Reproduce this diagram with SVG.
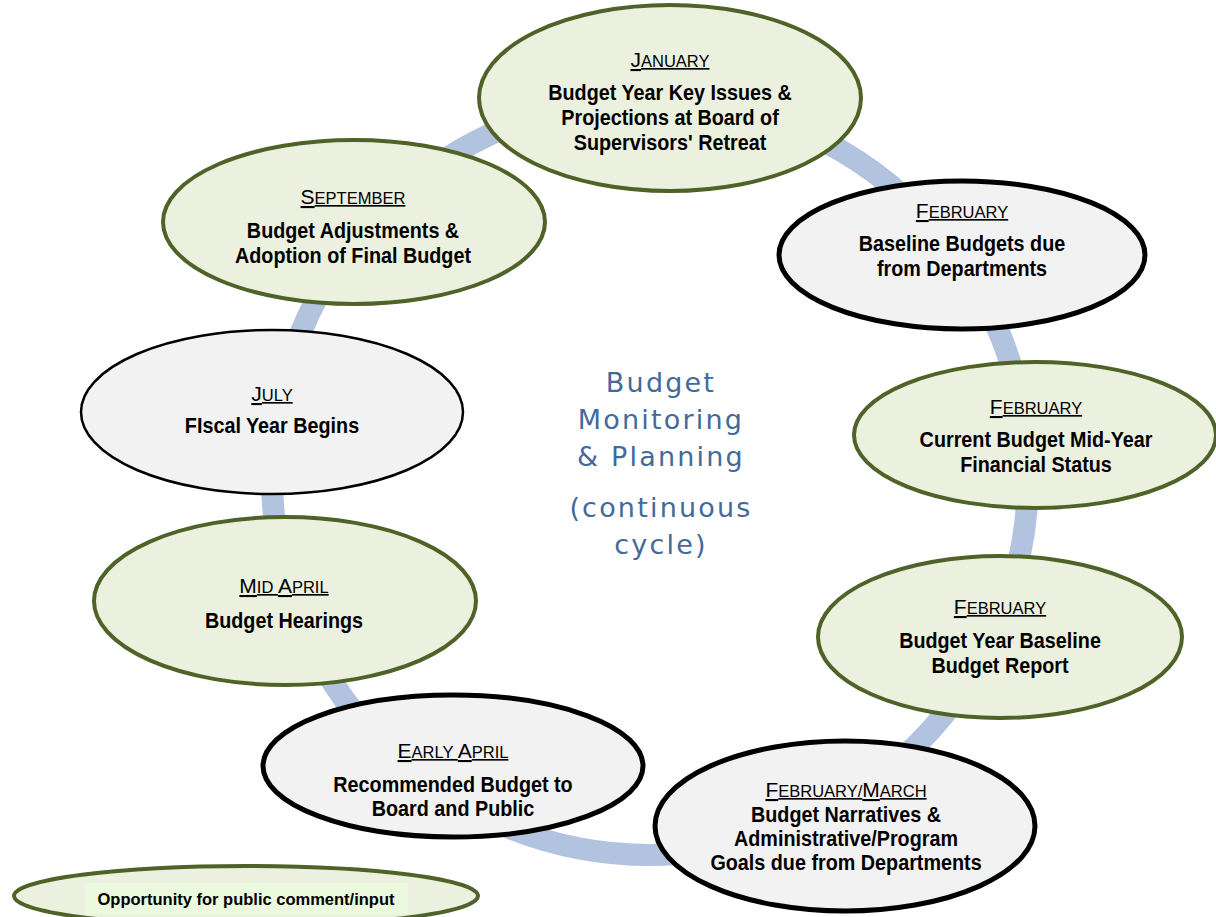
<svg xmlns="http://www.w3.org/2000/svg" width="1216" height="917" viewBox="0 0 1216 917">
<style>
.green{fill:#ebf1de;stroke:#4f6228;stroke-width:4}
.gray{fill:#f2f2f2;stroke:#000;stroke-width:5}
.grayThin{fill:#f2f2f2;stroke:#000;stroke-width:2.5}
text{font-family:"Liberation Sans Narrow","Arial Narrow","Liberation Sans",sans-serif;text-anchor:middle;fill:#000}
.m{font-size:16.5px;text-decoration:underline}
.mc{font-size:21px}
.b{font-size:21.5px;font-weight:bold}
.ctr{font-family:"DejaVu Sans",sans-serif;font-size:27px;fill:#44699b;letter-spacing:2.2px}
.leg{font-family:"Liberation Sans",sans-serif;font-size:16.5px;font-weight:bold}
</style>
<rect width="1216" height="917" fill="#fff"/>
<g id="connectors">
<circle cx="650" cy="477" r="378" fill="none" stroke="#b2c3df" stroke-width="22"/>
</g>
<g id="center">
<text class="ctr" x="661" y="392">Budget</text>
<text class="ctr" x="661" y="429">Monitoring</text>
<text class="ctr" x="661" y="466">&amp; Planning</text>
<text class="ctr" x="661" y="517">(continuous</text>
<text class="ctr" x="661" y="554">cycle)</text>
</g>
<g id="january">
<ellipse class="green" cx="670" cy="98" rx="191" ry="93"/>
<text class="m" x="670" y="67"><tspan class="mc">J</tspan>ANUARY</text>
<g transform="translate(670,0) scale(0.92,1)">
<text class="b" x="0" y="100">Budget Year Key Issues &amp;</text>
<text class="b" x="0" y="125">Projections at Board of</text>
<text class="b" x="0" y="150">Supervisors' Retreat</text>
</g>
</g>
<g id="feb1">
<ellipse class="gray" cx="962" cy="255" rx="183" ry="74"/>
<text class="m" x="962" y="218"><tspan class="mc">F</tspan>EBRUARY</text>
<g transform="translate(962,0) scale(0.92,1)">
<text class="b" x="0" y="251">Baseline Budgets due</text>
<text class="b" x="0" y="276">from Departments</text>
</g>
</g>
<g id="feb2">
<ellipse class="green" cx="1035" cy="435" rx="181" ry="73"/>
<text class="m" x="1036" y="414"><tspan class="mc">F</tspan>EBRUARY</text>
<g transform="translate(1036,0) scale(0.92,1)">
<text class="b" x="0" y="447">Current Budget Mid-Year</text>
<text class="b" x="0" y="472">Financial Status</text>
</g>
</g>
<g id="feb3">
<ellipse class="green" cx="1000" cy="637" rx="182" ry="81"/>
<text class="m" x="1000" y="614"><tspan class="mc">F</tspan>EBRUARY</text>
<g transform="translate(1000,0) scale(0.92,1)">
<text class="b" x="0" y="648">Budget Year Baseline</text>
<text class="b" x="0" y="673">Budget Report</text>
</g>
</g>
<g id="febmar">
<ellipse class="gray" cx="845" cy="826" rx="190" ry="85"/>
<text class="m" x="846" y="797"><tspan class="mc">F</tspan>EBRUARY/<tspan class="mc">M</tspan>ARCH</text>
<g transform="translate(846,0) scale(0.92,1)">
<text class="b" x="0" y="822">Budget Narratives &amp;</text>
<text class="b" x="0" y="846">Administrative/Program</text>
<text class="b" x="0" y="870">Goals due from Departments</text>
</g>
</g>
<g id="earlyapril">
<ellipse class="gray" cx="453" cy="766" rx="190" ry="71"/>
<text class="m" x="453" y="758"><tspan class="mc">E</tspan>ARLY <tspan class="mc">A</tspan>PRIL</text>
<g transform="translate(453,0) scale(0.92,1)">
<text class="b" x="0" y="792">Recommended Budget to</text>
<text class="b" x="0" y="816">Board and Public</text>
</g>
</g>
<g id="midapril">
<ellipse class="green" cx="285" cy="601" rx="191" ry="84"/>
<text class="m" x="284" y="593"><tspan class="mc">M</tspan>ID <tspan class="mc">A</tspan>PRIL</text>
<g transform="translate(284,0) scale(0.92,1)">
<text class="b" x="0" y="628">Budget Hearings</text>
</g>
</g>
<g id="july">
<ellipse class="grayThin" cx="272" cy="412" rx="191" ry="82"/>
<text class="m" x="272" y="401"><tspan class="mc">J</tspan>ULY</text>
<g transform="translate(272,0) scale(0.92,1)">
<text class="b" x="0" y="433">FIscal Year Begins</text>
</g>
</g>
<g id="september">
<ellipse class="green" cx="354" cy="222" rx="191" ry="82"/>
<text class="m" x="353" y="204"><tspan class="mc">S</tspan>EPTEMBER</text>
<g transform="translate(353,0) scale(0.92,1)">
<text class="b" x="0" y="238">Budget Adjustments &amp;</text>
<text class="b" x="0" y="263">Adoption of Final Budget</text>
</g>
</g>
<g id="legend">
<ellipse class="green" cx="246" cy="896" rx="232" ry="30"/>
<rect x="85" y="883" width="323" height="31" fill="#ebfade"/>
<text class="leg" x="246" y="905">Opportunity for public comment/input</text>
</g>
</svg>
